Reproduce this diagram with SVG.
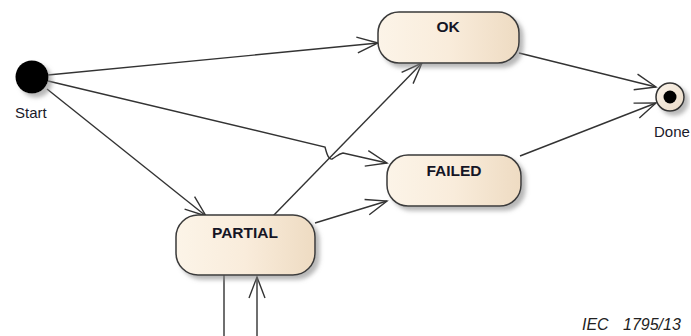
<svg xmlns="http://www.w3.org/2000/svg" width="691" height="336" viewBox="0 0 691 336">
<defs>
<linearGradient id="nodeFill" x1="0" y1="0" x2="1" y2="0">
<stop offset="0" stop-color="#fcf4e8"/>
<stop offset="0.5" stop-color="#f9ecdb"/>
<stop offset="1" stop-color="#eedbc2"/>
</linearGradient>
<linearGradient id="doneFill" x1="0" y1="0" x2="1" y2="1">
<stop offset="0" stop-color="#faf3ea"/>
<stop offset="1" stop-color="#e9dac6"/>
</linearGradient>
<filter id="shadow" x="-10%" y="-20%" width="130%" height="150%">
<feDropShadow dx="4" dy="4" stdDeviation="2" flood-color="#888" flood-opacity="0.6"/>
</filter>
<marker id="arrow" markerUnits="userSpaceOnUse" markerWidth="30" markerHeight="24" viewBox="-24 -12 30 24" refX="0" refY="0" orient="auto">
<path d="M-21,-8 L0,0 L-21,8" fill="none" stroke="#333" stroke-width="1.4"/>
</marker>
</defs>
<style>
.node rect { fill: url(#nodeFill); stroke: #3a3a3a; stroke-width: 1.5; }
.lbl { font-family: "Liberation Sans", Arial, sans-serif; font-weight: bold; font-size: 15.5px; fill: #151525; text-anchor: middle; }
.small { font-family: "Liberation Sans", Arial, sans-serif; font-size: 15px; fill: #1a1a2a; }
.conn path { fill: none; stroke: #333; stroke-width: 1.4; marker-end: url(#arrow); }
.conn path.plain { marker-end: none; }
.note { font-family: "Liberation Sans", Arial, sans-serif; font-style: italic; font-size: 16px; fill: #222; }
</style>

<g id="connectors" class="conn">
<path d="M48,75 L378,43"/>
<path d="M48,81 L325,147 C327,155 329,160 332,159 C336,157 338,154 343,153 L387,163"/>
<path d="M47,89 L206,216"/>
<path d="M273,216 L422,63"/>
<path d="M315,223 L387,201"/>
<path d="M519,53 L656,87"/>
<path d="M520,156 L656,103"/>
<path class="plain" d="M224,275 L224,345 L257,345 L257,300"/>
<path d="M257,300 L257,277"/>
</g>

<g id="start">
<circle cx="32" cy="77" r="16.5" fill="#000" filter="url(#shadow)"/>
<text class="small" x="15" y="118">Start</text>
</g>

<g id="ok" class="node">
<rect x="378" y="12" width="141" height="51" rx="21" ry="21" filter="url(#shadow)"/>
<text class="lbl" x="448" y="32">OK</text>
</g>

<g id="failed" class="node">
<rect x="387" y="155" width="134" height="51" rx="21" ry="21" filter="url(#shadow)"/>
<text class="lbl" x="454" y="176">FAILED</text>
</g>

<g id="partial" class="node">
<rect x="176" y="215" width="139" height="60" rx="22" ry="22" filter="url(#shadow)"/>
<text class="lbl" x="245" y="238">PARTIAL</text>
</g>

<g id="done">
<circle cx="670" cy="97" r="14" fill="url(#doneFill)" stroke="#333" stroke-width="1.5" filter="url(#shadow)"/>
<circle cx="670" cy="97" r="6.5" fill="#000"/>
<text class="small" x="654" y="137">Done</text>
</g>

<text class="note" x="582" y="330">IEC</text>
<text class="note" x="623" y="330">1795/13</text>
</svg>
